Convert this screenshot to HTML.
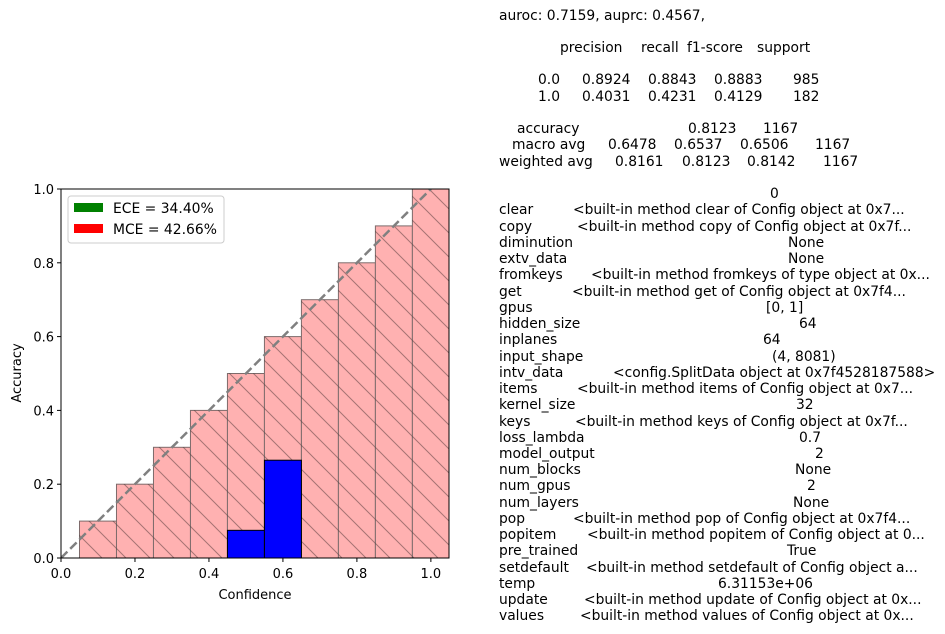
<!DOCTYPE html>
<html><head><meta charset="utf-8">
<style>
body{margin:0;background:#fff;width:945px;height:634px;overflow:hidden;position:relative;font-family:"DejaVu Sans","Liberation Sans",sans-serif;}
#txt span{position:absolute;font-size:13.85px;white-space:pre;color:#000;line-height:16px;}
svg text{font-family:"DejaVu Sans","Liberation Sans",sans-serif;}
</style></head><body>
<svg id="chart" width="470" height="634" style="position:absolute;left:0;top:0">
<defs>
<pattern id="hatch" patternUnits="userSpaceOnUse" width="24" height="24">
<path d="M-6,-6 L30,30 M-6,18 L6,30 M18,-6 L30,6" stroke="rgba(0,0,0,0.35)" stroke-width="1"/>
</pattern>
</defs>
<g id="plot"></g>
</svg>
<div id="txt"></div>
<script>
const binCenters=[0.1,0.2,0.3,0.4,0.5,0.6,0.7,0.8,0.9,1.0];
const gapHeights=[0.1,0.2,0.3,0.4,0.5,0.6,0.7,0.8,0.9,1.0];
const outputHeights=[0,0,0,0,0.075,0.265,0,0,0,0];
const xTicks=[0,0.2,0.4,0.6,0.8,1.0];
const yTicks=[0,0.2,0.4,0.6,0.8,1.0];
const legendLabels=["ECE = 34.40%","MCE = 42.66%"];
const X0=61,X1=449,Y0=558,Y1=189,XMAX=1.049;
function sx(v){return X0+v/XMAX*(X1-X0);}
function sy(v){return Y0-v*(Y0-Y1);}
const NS="http://www.w3.org/2000/svg";
const g=document.getElementById('plot');
function mk(t,a,parent){const e=document.createElementNS(NS,t);for(const k in a)e.setAttribute(k,a[k]);(parent||g).appendChild(e);return e;}
const clip=mk('clipPath',{id:'cp'});mk('rect',{x:X0,y:Y1,width:X1-X0,height:Y0-Y1},clip);
const bars=mk('g',{'clip-path':'url(#cp)'});
binCenters.forEach((c,i)=>{
  const x=sx(c-0.05),w=sx(c+0.05)-x,y=sy(gapHeights[i]);
  const r=mk('rect',{x:x,y:y,width:w,height:Y0-y,fill:'#ffb1b1',stroke:'#7d6b6b','stroke-width':1},bars);
  
  
  mk('rect',{x:x,y:y,width:w,height:Y0-y,fill:'url(#hatch)'},bars);
});
binCenters.forEach((c,i)=>{
  if(outputHeights[i]<=0)return;
  const x=sx(c-0.05),w=sx(c+0.05)-x,y=sy(outputHeights[i]);
  const r=mk('rect',{x:x,y:y,width:w,height:Y0-y,fill:'#0000ff',stroke:'#000','stroke-width':1},bars);
  
  
});
const dl=mk('line',{x1:sx(0),y1:sy(0),x2:sx(1),y2:sy(1),stroke:'#808080','stroke-width':2.5,'stroke-dasharray':'9,4'},bars);


mk('rect',{x:X0,y:Y1,width:X1-X0,height:Y0-Y1,fill:'none',stroke:'#000','stroke-width':1});
xTicks.forEach(v=>{const x=sx(v);mk('line',{x1:x,y1:Y0,x2:x,y2:Y0+4,stroke:'#000'});
  const t=mk('text',{x:x,y:Y0+20,'text-anchor':'middle','font-size':13});t.textContent=v.toFixed(1);
  });
yTicks.forEach(v=>{const y=sy(v);mk('line',{x1:X0-4,y1:y,x2:X0,y2:y,stroke:'#000'});
  const t=mk('text',{x:X0-7,y:y+5,'text-anchor':'end','font-size':13});t.textContent=v.toFixed(1);
  });
let t=mk('text',{x:255,y:599,'text-anchor':'middle','font-size':13});t.textContent='Confidence';

t=mk('text',{x:0,y:0,'text-anchor':'middle','font-size':13,transform:'translate(21,373) rotate(-90)'});t.textContent='Accuracy';

const lg=mk('g',{});
mk('rect',{x:68,y:196,width:156,height:47,rx:3,fill:'#fff','fill-opacity':0.8,stroke:'#ccc'},lg);
const lc=['#008000','#ff0000'];
legendLabels.forEach((s,i)=>{const y=203+i*21;
  mk('rect',{x:74,y:y,width:29,height:9,fill:lc[i]},lg);
  const tt=mk('text',{x:113,y:y+10,'font-size':13.9},lg);tt.textContent=s;
  });

const rows=[
[0,[[499,"auroc: 0.7159, auprc: 0.4567,"]]],
[2,[[560,"precision"],[641,"recall"],[687,"f1-score"],[757,"support"]]],
[4,[[538,"0.0"],[582,"0.8924"],[648,"0.8843"],[714,"0.8883"],[793,"985"]]],
[5,[[538,"1.0"],[582,"0.4031"],[648,"0.4231"],[714,"0.4129"],[793,"182"]]],
[7,[[517,"accuracy"],[688,"0.8123"],[763,"1167"]]],
[8,[[512,"macro avg"],[608,"0.6478"],[674,"0.6537"],[740,"0.6506"],[815,"1167"]]],
[9,[[499,"weighted avg"],[615,"0.8161"],[682,"0.8123"],[747,"0.8142"],[823,"1167"]]],
[11,[[770,"0"]]],
[12,[[499,"clear"],[573,"<built-in method clear of Config object at 0x7..."]]],
[13,[[499,"copy"],[577,"<built-in method copy of Config object at 0x7f..."]]],
[14,[[499,"diminution"],[788,"None"]]],
[15,[[499,"extv_data"],[788,"None"]]],
[16,[[499,"fromkeys"],[591,"<built-in method fromkeys of type object at 0x..."]]],
[17,[[499,"get"],[572,"<built-in method get of Config object at 0x7f4..."]]],
[18,[[499,"gpus"],[766,"[0, 1]"]]],
[19,[[499,"hidden_size"],[799,"64"]]],
[20,[[499,"inplanes"],[763,"64"]]],
[21,[[499,"input_shape"],[772,"(4, 8081)"]]],
[22,[[499,"intv_data"],[613,"<config.SplitData object at 0x7f4528187588>"]]],
[23,[[499,"items"],[577,"<built-in method items of Config object at 0x7..."]]],
[24,[[499,"kernel_size"],[796,"32"]]],
[25,[[499,"keys"],[575,"<built-in method keys of Config object at 0x7f..."]]],
[26,[[499,"loss_lambda"],[799,"0.7"]]],
[27,[[499,"model_output"],[815,"2"]]],
[28,[[499,"num_blocks"],[795,"None"]]],
[29,[[499,"num_gpus"],[807,"2"]]],
[30,[[499,"num_layers"],[793,"None"]]],
[31,[[499,"pop"],[573,"<built-in method pop of Config object at 0x7f4..."]]],
[32,[[499,"popitem"],[587,"<built-in method popitem of Config object at 0..."]]],
[33,[[499,"pre_trained"],[787,"True"]]],
[34,[[499,"setdefault"],[586,"<built-in method setdefault of Config object a..."]]],
[35,[[499,"temp"],[718,"6.31153e+06"]]],
[36,[[499,"update"],[584,"<built-in method update of Config object at 0x..."]]],
[37,[[499,"values"],[580,"<built-in method values of Config object at 0x..."]]]
];
const txt=document.getElementById('txt');
rows.forEach(([ln,parts])=>{parts.forEach(([x,s])=>{
  const sp=document.createElement('span');sp.textContent=s;
  sp.style.left=x+'px';sp.style.top=(17+ln*16.24-9.5)+'px';
  
  
  txt.appendChild(sp);});});
</script>
</body></html>
